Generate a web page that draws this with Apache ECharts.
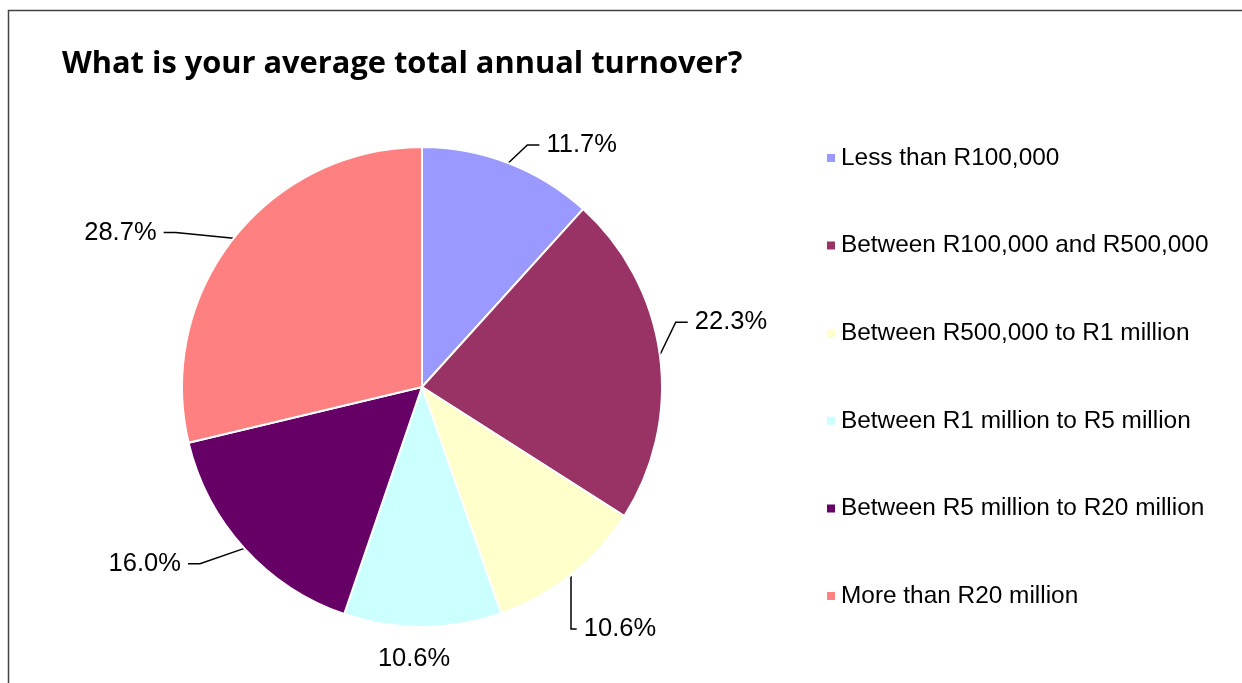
<!DOCTYPE html>
<html>
<head>
<meta charset="utf-8">
<script src="https://cdn.jsdelivr.net/npm/echarts@6/dist/echarts.min.js"></script>
<style>
html,body{margin:0;padding:0;background:#fff;}
#chart{width:1242px;height:683px;}
</style>
</head>
<body>
<div id="chart"></div>
<script>
const titleText = "What is your average total annual turnover?";
const categories = [
  "Less than R100,000",
  "Between R100,000 and R500,000",
  "Between R500,000 to R1 million",
  "Between R1 million to R5 million",
  "Between R5 million to R20 million",
  "More than R20 million"
];
const values = [11.7, 22.3, 10.6, 10.6, 16.0, 28.7];
const colors = ["#9999FF", "#993366", "#FFFFCC", "#CCFFFF", "#660066", "#FF8080"];
// label nudges (style only), relative to ECharts' own outside-label placement
const labelShift = [[9, -5], [-3, -31], [-20, 43], [-69, 18], [-29, 6], [-42, 3]];
const showLeader = [true, true, true, false, true, true];

const chart = echarts.init(document.getElementById('chart'), null, {renderer: 'canvas'});
chart.setOption({
  backgroundColor: '#ffffff',
  animation: false,
  color: colors,
  title: {
    text: titleText,
    left: 57,
    top: 44,
    textStyle: {fontFamily: 'Open Sans', fontWeight: 'bold', fontSize: 30.8, color: '#000'}
  },
  graphic: [{
    type: 'rect',
    left: 6, top: 8,
    shape: {width: 1300, height: 800},
    style: {fill: 'none', stroke: '#444', lineWidth: 1.5},
    z: -1
  }],
  legend: {
    orient: 'vertical',
    left: 820,
    top: 141,
    itemWidth: 10,
    itemHeight: 10,
    itemGap: 63.6,
    icon: 'rect',
    textStyle: {fontFamily: 'Liberation Sans', fontSize: 24.4, color: '#000', lineHeight: 24},
    data: categories
  },
  series: [{
    type: 'pie',
    center: [422, 387],
    radius: 240,
    startAngle: 90,
    clockwise: true,
    itemStyle: {borderColor: '#fff', borderWidth: 2},
    label: {
      show: true,
      formatter: p => ' ' + p.value.toFixed(1) + '% ',
      fontFamily: 'Liberation Sans',
      fontSize: 25.5,
      color: '#000'
    },
    labelLine: {show: true, length: 14, length2: 12, lineStyle: {color: '#000', width: 1.5}},
    labelLayout: p => {
      const s = labelShift[p.dataIndex];
      return {
        x: p.labelRect.x + p.labelRect.width / 2 + s[0],
        y: p.labelRect.y + p.labelRect.height / 2 + s[1],
        align: 'center',
        verticalAlign: 'middle'
      };
    },
    data: categories.map((c, i) => ({
      name: c,
      value: values[i],
      labelLine: {show: showLeader[i]}
    }))
  }]
});
</script>
</body>
</html>
